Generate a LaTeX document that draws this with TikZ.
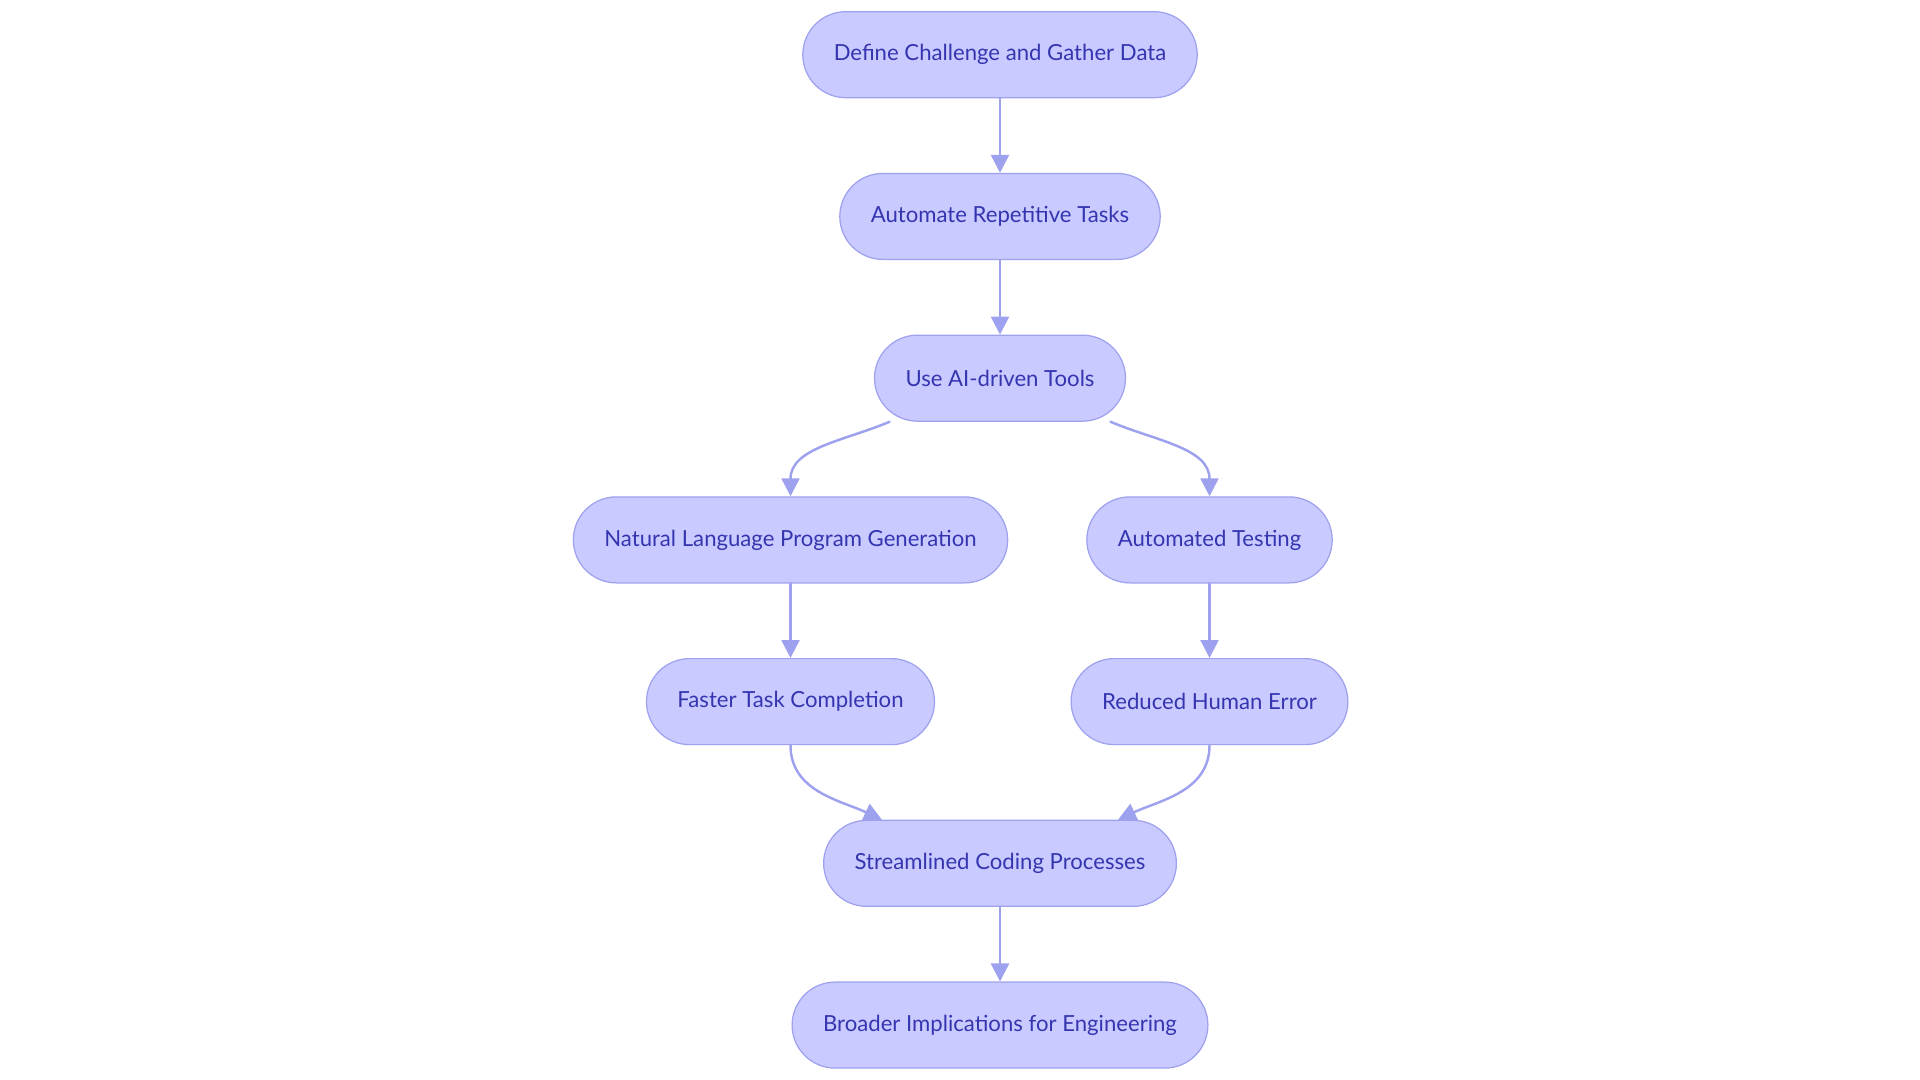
\documentclass[tikz,border=0pt]{standalone}
\usepackage{fontspec}
\setmainfont{Lato}
\usetikzlibrary{positioning,arrows.meta}
\definecolor{boxfill}{HTML}{C9CAFF}
\definecolor{boxline}{HTML}{9EA1EE}
\definecolor{boxtext}{HTML}{3535B0}

\begin{document}
\begin{tikzpicture}[line join = round, line cap = round,
  box/.style={draw=boxline, line width=0.7pt, fill=boxfill, text=boxtext,
    rounded corners=0.86cm, minimum height=1.72cm, inner xsep=0.62cm,
    font=\fontsize{12.6}{14}\selectfont},
  flow/.style={draw=boxline, line width=1.4pt, -{Triangle[length=0.36cm,width=0.36cm]}},
  node distance=1.49cm]
\useasboundingbox (0,0) rectangle (38.4,-21.6);
\node[box] (define) at (20.0,-1.094) {Define Challenge and Gather Data};
\node[box, below=of define] (automate) {Automate Repetitive Tasks};
\node[box, below=of automate] (tools) {Use AI-driven Tools};
\node[box, below=of tools, xshift=-4.19cm] (language) {Natural Language Program Generation};
\node[box, below=of tools, xshift=4.19cm] (testing) {Automated Testing};
\node[box, below=of language] (faster) {Faster Task Completion};
\node[box, below=of testing] (error) {Reduced Human Error};
\node[box, below=of faster, xshift=4.19cm] (stream) {Streamlined Coding Processes};
\node[box, below=of stream] (broader) {Broader Implications for Engineering};

\foreach \a/\b in {define/automate, automate/tools, language/faster, testing/error, stream/broader}
    \draw[flow] (\a) -- (\b);
\draw[flow] ([xshift=-2.21cm]tools.south) to[out=-157,in=90] (language.north);
\draw[flow] ([xshift=2.21cm]tools.south) to[out=-23,in=90] (testing.north);
\draw[flow] (faster.south) to[out=-90,in=155] ([xshift=-2.36cm]stream.north);
\draw[flow] (error.south) to[out=-90,in=25] ([xshift=2.36cm]stream.north);
\end{tikzpicture}
\end{document}
